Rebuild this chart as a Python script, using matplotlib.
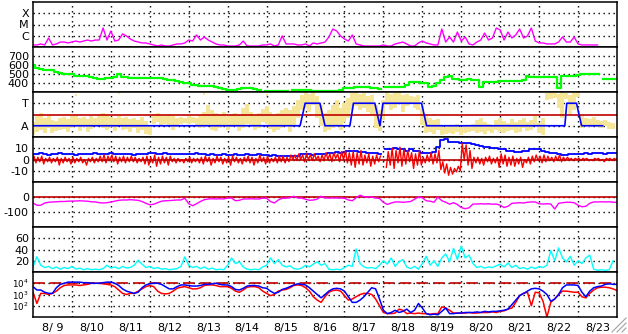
import numpy as np
import matplotlib
matplotlib.use('Agg')
import matplotlib.pyplot as plt
from matplotlib.lines import Line2D
from matplotlib.ticker import NullLocator

plt.rcParams['font.family'] = 'DejaVu Sans'
plt.rcParams['axes.unicode_minus'] = False
plt.rcParams['mathtext.fontset'] = 'dejavusans'

# time axis: days since 8/9 00UT, samples every 0.1 day
STEP = 0.1
day_labels = ['8/ 9', '8/10', '8/11', '8/12', '8/13', '8/14', '8/15', '8/16',
              '8/17', '8/18', '8/19', '8/20', '8/21', '8/22', '8/23']

# GOES x-ray flux, log10(W/m2)
xray_log = [
    -6.82, -6.82, -6.73, -6.82, -6.20, -6.82, -6.73, -6.56, -6.56, -6.64,
    -6.56, -6.47, -6.56, -6.47, -6.38, -6.47, -6.38, -6.38, -5.31, -6.38,
    -5.58, -6.47, -6.38, -5.84, -6.02, -6.29, -6.47, -6.56, -6.64, -6.64,
    -6.73, -6.82, -6.91, -6.82, -6.91, -6.91, -6.82, -6.73, -6.73, -6.64,
    -6.38, -6.47, -5.93, -6.38, -6.11, -6.38, -6.56, -6.73, -6.82, -6.82,
    -6.91, -6.91, -6.91, -6.82, -6.47, -6.91, -6.91, -6.91, -6.91, -6.82,
    -6.82, -6.73, -6.91, -6.82, -6.02, -6.73, -6.73, -6.73, -6.82, -6.82,
    -6.73, -6.91, -6.64, -6.73, -6.64, -6.56, -6.11, -5.40, -5.58, -6.02,
    -6.29, -6.47, -5.93, -6.73, -6.82, -6.91, -6.91, -6.91, -6.91, -6.91,
    -6.82, -6.91, -6.91, -6.73, -6.64, -6.56, -6.73, -6.91, -6.91, -6.64,
    -6.47, -6.64, -6.73, -6.82, -6.82, -5.40, -6.56, -6.11, -6.56, -5.67,
    -6.47, -6.11, -6.73, -6.82, -6.56, -6.38, -5.76, -6.38, -6.20, -5.31,
    -5.49, -6.38, -5.67, -6.20, -5.93, -5.40, -6.20, -6.02, -5.31, -6.47,
    -6.64, -6.64, -6.73, -6.73, -6.73, -6.56, -6.11, -6.56, -6.56, -6.11,
    -6.73, -6.82, -6.82, -6.82, -6.82, -6.82]

# solar wind speed, km/s
nan = np.nan
speed = [
    600, 570, 550, 545, 540, 548, 525, 515, 500, 505,
    495, 480, 478, 482, 475, 470, 450, 445, 440, 450,
    460, 468, 500, 470, 465, 460, 455, 458, 452, 460,
    455, 450, 455, 450, 440, 435, 430, 425, 410, 405,
    395, 380, 378, 370, 368, 365, 362, 355, 345, 335,
    320, 325, 325, 330, 340, 345, 340, 335, 320, nan,
    315, 312, 310, 312, 310, 315, nan, 320, 322, 325,
    320, 325, 315, 312, 315, 310, 312, 315, 310, 320,
    340, 345, 340, 350, 355, 352, 350, 345, 340, 338,
    nan, 355, 358, 360, 355, 352, 380, 410, 415, 410,
    405, 400, 360, 365, 400, 430, 470, 480, 445, 440,
    435, 430, 440, 432, 430, 360, 410, 415, 410, 412,
    420, 422, 418, 425, 420, 422, 430, 475, 470, 465,
    465, 470, 462, 470, 468, 345, 478, 480, 482, 478,
    485, 495, 500, 498, 502, 500, nan, 440, 445, 445, 448]

# IMF angle spread (deg): upper and lower edge of the scatter per sample
phi_hi = [
    120, 176, 192, 152, 176, 136, 128, 152, 160, 144,
    168, 176, 152, 160, 144, 168, 152, 184, 192, 176,
    160, 152, 168, 152, 160, 144, 152, 136, 160, 128,
    96, 184, 192, 176, 168, 184, 168, 152, 160, 152,
    168, 160, 152, 176, 200, 256, 216, 192, 176, 200,
    168, 184, 192, 176, 232, 264, 200, 176, 192, 224,
    248, 200, 176, 192, 216, 232, 216, 248, 296, 336,
    360, 344, 360, 328, 256, 192, 216, 256, 296, 232,
    272, 312, 352, 360, 344, 352, 328, 336, 256, 216,
    296, 360, 344, 352, 360, 336, 344, 328, 320, 336,
    232, 176, 152, 136, 144, 88, 80, 96, 88, 104,
    80, 96, 88, 104, 136, 152, 120, 104, 96, 136,
    152, 128, 112, 144, 120, 136, 152, 120, 136, 168,
    112, 152, 352, 360, 352, 344, 360, 352, 336, 352,
    360, 176, 152, 144, 160, 136, 128, 136, 120, 112]
phi_lo = [
    16, 40, 56, 32, 72, 32, 48, 56, 64, 40,
    72, 88, 48, 80, 40, 64, 88, 96, 72, 56,
    80, 48, 88, 56, 64, 40, 72, 32, 56, 24,
    16, 104, 120, 96, 104, 88, 56, 80, 104, 112,
    104, 112, 88, 72, 80, 96, 56, 48, 72, 88,
    56, 80, 96, 48, 72, 104, 88, 56, 72, 120,
    104, 64, 40, 56, 72, 88, 40, 96, 152, 216,
    232, 200, 256, 152, 88, 40, 56, 72, 96, 56,
    120, 152, 216, 248, 216, 232, 200, 176, 72, 48,
    136, 256, 216, 232, 264, 200, 248, 264, 232, 216,
    96, 32, 40, 24, 56, 16, 24, 32, 24, 40,
    16, 32, 40, 48, 32, 40, 24, 48, 32, 56,
    40, 32, 48, 56, 32, 40, 72, 48, 56, 88,
    32, 16, 296, 304, 312, 232, 152, 304, 176, 216,
    320, 72, 88, 80, 96, 80, 72, 88, 64, 64]
phi_odd_t = [1.1, 2.2, 4.4, 6.0, 7.2]
phi_odd = [336, 352, 344, 340, 352]

# sector polarity trace (deg): A = 90, T = 270
sector_t = [0, 6.86, 6.99, 7.37, 7.50, 8.14, 8.23, 8.78, 8.91, 8.99,
            9.98, 10.11, 13.66, 13.71, 13.96, 14.09, 14.63]
sector_phi = [90, 90, 270, 270, 90, 90, 270, 270, 90, 270,
              270, 90, 90, 270, 270, 90, 90]

# IMF Bt (nT)
bt = [
    5, 5, 6, 5, 4, 5, 5, 6, 5, 5,
    5, 4, 5, 5, 5, 5, 6, 5, 5, 5,
    6, 5, 5, 5, 5, 5, 4, 5, 5, 5,
    6, 6, 5, 5, 6, 5, 5, 5, 5, 5,
    5, 5, 6, 5, 5, 4, 5, 4, 4, 5,
    4, 4, 5, 4, 4, 5, 4, 4, 5, 4,
    4, 3, 4, 3, 3, 3, 3, 3, 3, 5,
    5, 5, 4, 5, 5, 5, 6, 6, 7, 6,
    7, 8, 8, 8, 7, 7, 6, 6, 6, 5,
    nan, 9, 9, 10, 9, 9, 8, 9, 8, 8,
    6, 6, 6, 7, 11, 17, 18, 16, 16, 16,
    15, 15, 15, 14, 13, 12, 11, 11, 10, 10,
    9, 9, 8, 8, 7, 7, 8, 8, 9, 9,
    9, 8, 7, 6, 6, 5, 4, 4, 5, 5,
    5, 5, 6, 5, 6, 6, 6, 5, 6, 6, 6]

# IMF Bz range (nT) per sample
bz_lo = [
    -1, -3, -2, -4, -2, -3, -2, -5, -3, -2,
    -4, -3, -2, -3, -5, -2, -3, -2, -2, -3,
    -1, -2, -4, -2, -3, -2, -2, -3, -2, -4,
    -5, -3, -6, -4, -3, -5, -2, -3, -2, -3,
    -2, -3, -2, -3, -4, -2, -5, -3, -2, -4,
    -3, -5, -2, -3, -4, -2, -3, -5, -3, -2,
    -4, -3, -2, -3, -2, -3, -2, 0, -1, 0,
    -2, 0, -1, 0, -2, -1, 0, -2, 1, -2,
    0, -3, -5, -7, -4, -5, -3, -6, -4, -2,
    nan, -7, -5, -8, -3, -6, -4, -2, -8, -5,
    -5, -3, -2, -4, -3, -9, -12, -14, -13, -11,
    -10, 0, -5, -8, -3, -4, -5, -2, -4, -3,
    -7, -4, -6, -5, -6, -4, -7, -3, -4, -2,
    -1, -3, -2, -1, -2, -1, -2, -1, 0, -1,
    0, -1, 0, -1, -1, 0, -1, -2, 0, -1, 0]
bz_hi = [
    3, 2, 3, 1, 2, 1, 2, 1, 2, 1,
    2, 1, 2, 0, 1, 2, 1, 3, 4, 3,
    4, 3, 2, 3, 2, 3, 2, 1, 2, 3,
    2, 4, 2, 3, 2, 3, 1, 1, 0, 1,
    2, 1, 1, 2, 3, 2, 1, 3, 2, 1,
    2, 3, 2, 1, 2, 3, 2, 1, 4, 2,
    3, 1, 2, 3, 3, 2, 4, 4, 5, 4,
    5, 4, 5, 3, 4, 6, 5, 6, 5, 7,
    8, 6, 7, 6, 8, 4, 5, 3, 4, 3,
    nan, 7, 10, 8, 11, 9, 8, 6, 5, 8,
    2, 4, 6, 5, 8, -2, -4, -7, -8, -6,
    14, 13, 8, 2, 2, 1, 2, 3, 1, 2,
    5, 4, 2, 3, 1, 2, 0, 2, 3, 4,
    3, 4, 3, 2, 3, 4, 2, 2, 1, 1,
    1, 1, 1, 0, 1, 1, 0, 1, 1, 1, 1]

# Dst (nT)
dst = [
    -40, -55, -55, -40, -35, -33, -32, -30, -30, -28,
    -27, -27, -25, -27, -28, -32, -33, -38, -40, -38,
    -33, -28, -22, -20, -20, -18, -20, -22, -30, -42,
    -52, -48, -38, -28, -25, -24, -22, -20, -20, -8,
    -45, -58, -45, -30, -18, -13, -12, -13, -12, -13,
    -7, -7, -25, -22, -13, -13, -12, -13, -13, -8,
    -8, -30, -40, -20, -8, -8, -5, 5, -7, -7,
    -15, -22, -20, -14, 5, -7, -7, -6, -7, -7,
    -8, -20, -25, -5, 12, 2, 0, 0, -7, -10,
    -35, -50, -40, -33, -33, -35, -33, -30, -15, 0,
    -5, -25, -28, -35, 0, -25, -35, -48, -38, -50,
    -70, -78, -72, -47, -47, -45, -47, -45, -48, -47,
    -55, -70, -62, -42, -40, -38, -40, -35, -33, -33,
    -45, -47, -45, -47, -80, -42, -38, -35, -35, -38,
    -55, -65, -62, -42, -33, -33, -32, -33, -32, -35, -35]

# proton density (cyan panel)
dens = [
    9, 27, 12, 8, 10, 6, 9, 5, 8, 6,
    10, 5, 7, 4, 6, 4, 5, 4, 6, 12,
    7, 9, 6, 10, 7, 8, 12, 21, 14, 8,
    10, 6, 8, 5, 6, 4, 5, 6, 10, 27,
    12, 8, 10, 6, 9, 5, 7, 4, 5, 4,
    12, 25, 15, 18, 9, 5, 4, 5, 4, 9,
    12, 25, 15, 22, 12, 9, 11, 6, 5, 7,
    12, 9, 14, 18, 12, 15, 5, 4, 5, 4,
    8, 12, 10, 41, 15, 9, 7, 8, 6, 12,
    20, 14, 25, 10, 18, 22, 9, 6, 10, 5,
    15, 28, 12, 20, 10, 25, 32, 18, 42, 22,
    46, 25, 30, 15, 8, 10, 7, 9, 8, 11,
    14, 9, 16, 8, 12, 6, 8, 5, 9, 6,
    10, 8, 12, 38, 20, 43, 25, 18, 28, 12,
    20, 15, 25, 30, 5, 3, 4, 3, 4, 20]

# electron flux, log10 (two channels)
e_blue = [
    3.7, 3.4, 3.4, 3.2, 3.1, 3.1, 3.6, 3.9, 4.0, 4.1,
    4.1, 4.1, 4.1, 4.05, 4.05, 4.0, 4.0, 4.0, 4.05, 4.1,
    4.1, 4.0, 3.8, 3.5, 3.3, 3.2, 3.1, 3.2, 3.6, 3.85,
    3.95, 4.0, 4.0, 3.9, 3.7, 3.5, 3.5, 3.7, 3.85, 3.85,
    3.8, 3.75, 3.75, 3.8, 3.9, 3.9, 3.95, 4.0, 3.9, 3.85,
    3.85, 3.7, 3.45, 3.4, 3.55, 3.75, 3.8, 3.8, 3.75, 3.6,
    3.55, 3.3, 3.1, 3.2, 3.45, 3.55, 3.7, 3.85, 3.95, 3.9,
    3.85, 3.6, 3.3, 3.0, 2.7, 3.0, 3.3, 3.5, 3.55, 3.5,
    3.3, 2.8, 2.3, 2.3, 2.5, 2.8, 3.2, 3.6, 3.5, 2.6,
    1.6, 1.3, 1.4, 1.6, 1.4, 1.5, 1.7, 1.4, 1.6, 2.2,
    1.8, 1.3, 1.2, 1.25, 1.2, 1.5, 1.8, 1.3, 1.3, 1.35,
    1.35, 1.4, 1.4, 1.4, 1.45, 1.4, 1.5, 1.45, 1.5, 1.5,
    1.55, 1.6, 1.7, 2.1, 2.5, 2.9, 3.1, 3.3, 3.5, 3.55,
    3.5, 3.3, 3.0, 2.4, 2.6, 3.0, 3.6, 3.85, 3.85, 3.85,
    3.8, 3.2, 2.8, 3.3, 3.6, 3.7, 3.75, 3.9, 3.95, 3.9, 3.9]
e_red = [
    3.2, 2.2, 3.1, 3.1, 3.0, 3.1, 3.3, 3.6, 3.8, 3.85,
    3.85, 3.85, 3.8, 3.85, 3.9, 4.0, 4.0, 4.0, 3.95, 3.9,
    3.85, 3.7, 3.4, 3.1, 3.0, 3.1, 3.1, 3.3, 3.5, 3.7,
    3.8, 3.7, 3.3, 3.1, 3.05, 3.1, 3.3, 3.55, 3.65, 3.7,
    3.6, 3.5, 3.5, 3.6, 3.8, 3.85, 3.85, 3.8, 3.7, 3.7,
    3.7, 3.55, 3.3, 3.2, 3.4, 3.65, 3.7, 3.7, 3.6, 3.3,
    3.1, 2.9, 3.0, 3.3, 3.4, 3.45, 3.6, 3.8, 3.85, 3.8,
    3.6, 3.3, 2.8, 2.5, 2.3, 2.8, 3.2, 3.35, 3.4, 3.3,
    2.9, 2.5, 2.6, 2.8, 3.0, 3.1, 3.1, 3.0, 2.6, 2.0,
    1.4, 1.3, 1.3, 1.35, 1.7, 1.6, 1.3, 1.35, 1.3, 1.35,
    1.3, 1.3, 1.25, 1.3, 1.3, 1.9, 1.8, 1.6, 1.35, 1.35,
    1.35, 1.35, 1.4, 1.35, 1.35, 1.4, 1.4, 1.4, 1.45, 1.4,
    1.5, 1.55, 1.7, 1.8, 2.3, 2.9, 3.1, 3.2, 2.0, 3.2,
    3.15, 2.4, 1.0, 2.3, 2.6, 3.0, 3.3, 3.3, 3.25, 3.2,
    3.2, 2.8, 2.7, 3.1, 3.4, 3.6, 3.65, 3.65, 3.6, 3.5, 3.35]


def tt(vals):
    return np.arange(len(vals)) * STEP


W, H = 628, 334
LEFT, RIGHT = 33, 617
PANEL_H = 45
DOT = (0, (1, 2.6))
DARKRED = '#C00000'

fig = plt.figure(figsize=(W / 100, H / 100), dpi=100)
fig.patch.set_facecolor('white')


def panel(k):
    top = 2 + k * PANEL_H
    ax = fig.add_axes([LEFT / W, 1 - (top + PANEL_H) / H,
                       (RIGHT - LEFT) / W, PANEL_H / H])
    ax.set_xlim(0, 15)
    ax.set_xticks(np.arange(1, 15))
    ax.set_xticklabels([])
    for s in ax.spines.values():
        s.set_linewidth(1.1)
        s.set_color('black')
    ax.tick_params(which='both', length=0, labelsize=8, pad=3)
    ax.grid(True, which='major', color='black', linestyle=DOT, linewidth=1.0)
    ax.set_axisbelow(True)
    return ax


# 1: X-ray
ax = panel(0)
ax.set_yscale('log')
ax.plot(tt(xray_log), 10 ** np.array(xray_log), color='#FF00FF', lw=1.0)
ax.set_ylim(1e-7, 1e-3)
ax.yaxis.set_minor_locator(NullLocator())
ax.set_yticks([1e-4, 1e-5, 1e-6])
ax.set_yticklabels(['X', 'M', 'C'])

# 2: speed
ax = panel(1)
ax.plot(tt(speed), speed, color='#00FF00', lw=1.6, drawstyle='steps-mid')
ax.set_ylim(300, 800)
ax.set_yticks([700, 600, 500, 400])

# 3: sector / angle
ax = panel(2)
ax.vlines(tt(phi_hi), phi_lo, phi_hi, color='#F5E596', lw=2.8)
ax.plot(phi_odd_t, phi_odd, 's', color='#F5E596', ms=1.8, mew=0)
ax.axhline(180, color=DARKRED, lw=1.2)
ax.plot(sector_t, sector_phi, color='#0000FF', lw=1.2)
ax.set_ylim(0, 360)
ax.set_yticks([270, 90])
ax.set_yticklabels(['T', 'A'])

# 4: IMF (Bz drawn as a jagged trace running between the read extremes)
ax = panel(3)
ax.plot(tt(bt), bt, color='#0000FF', lw=1.3, drawstyle='steps-mid')
tb = tt(bz_lo)
bz_t = np.column_stack([tb - 0.025, tb + 0.025]).ravel()
bz_v = np.column_stack([bz_lo, bz_hi]).ravel()
ax.plot(bz_t, bz_v, color='#FF0000', lw=1.0)
ax.axhline(0, color=DARKRED, lw=1.2)
ax.set_ylim(-20, 20)
ax.set_yticks([10, 0, -10])

# 5: Dst
ax = panel(4)
ax.axhline(0, color=DARKRED, lw=1.2)
ax.plot(tt(dst), dst, color='#FF00FF', lw=1.0)
ax.set_ylim(-200, 100)
ax.set_yticks([0, -100])

# 6: density
ax = panel(5)
ax.plot(tt(dens), dens, color='#00FFFF', lw=1.0)
ax.set_ylim(0, 80)
ax.set_yticks([60, 40, 20])

# 7: electrons
ax = panel(6)
ax.set_yscale('log')
ax.axhline(1e4, color=DARKRED, lw=1.2, linestyle=(0, (7, 3)))
ax.plot(tt(e_red), 10 ** np.array(e_red), color='#FF0000', lw=1.1)
ax.plot(tt(e_blue), 10 ** np.array(e_blue), color='#0000FF', lw=1.1)
ax.set_ylim(10, 1e5)
ax.yaxis.set_minor_locator(NullLocator())
ax.set_yticks([1e4, 1e3, 1e2])
ax.set_yticklabels(['$10^4$', '$10^3$', '$10^2$'])
ax.tick_params(axis='y', labelsize=6.3, pad=3)
ax.set_xticks(np.arange(15) + 0.5, minor=True)
ax.set_xticklabels(day_labels, minor=True)
ax.tick_params(axis='x', which='minor', length=0, labelsize=8, pad=4)

# window resize grip in the corner
for off in (0, 5, 10):
    fig.add_artist(Line2D([(612 + off) / W, 626 / W],
                          [1 - 332 / H, 1 - (318 + off) / H],
                          color='#A0A0A0', lw=0.8, transform=fig.transFigure))

fig.savefig('out.png', dpi=100)
